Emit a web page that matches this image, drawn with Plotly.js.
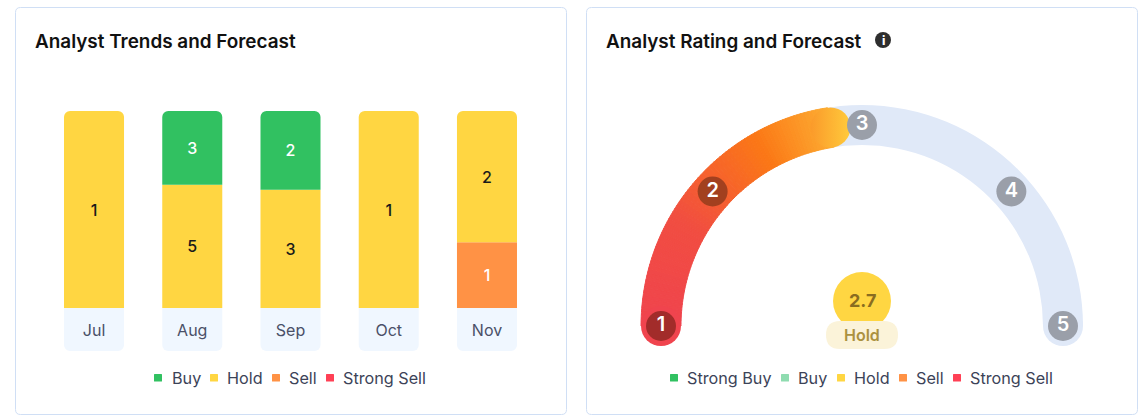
<!DOCTYPE html>
<html>
<head>
<meta charset="utf-8">
<script src="https://cdn.plot.ly/plotly-3.0.1.min.js"></script>
<style>
  html, body { margin: 0; padding: 0; background: #fff; }
  #chart { width: 1144px; height: 417px; }
</style>
</head>
<body>
<div id="chart"></div>
<script>
// Values
const months = ['Jul', 'Aug', 'Sep', 'Oct', 'Nov'];
const buyCounts = [0, 3, 2, 0, 0];
const holdCounts = [1, 5, 3, 1, 2];
const sellCounts = [0, 0, 0, 0, 1];
const trendLegend = ['Buy', 'Hold', 'Sell', 'Strong Sell'];

const ratingValue = 2.7;
const ratingLabel = 'Hold';
const gaugeTicks = [1, 2, 3, 4, 5];
const gaugeTickAngles = [180, 138, 90, 42, 0];
const ratingEndAngle = 99;
const ratingLegend = ['Strong Buy', 'Buy', 'Hold', 'Sell', 'Strong Sell'];

const W = 1144, H = 417;
const FONT = 'Inter, "Noto Sans", sans-serif';
const colors = {
    'Strong Buy': '#31c161', 'Buy': '#31c161', 'Hold': '#ffd642',
    'Sell': '#ff9245', 'Strong Sell': '#ff4055'
};
const px = x => x / W;
const py = y => 1 - y / H;

function roundedPath(x0, y0, x1, y1, r) {
    const rx = r / W, ry = r / H;
    const [l, t, a, b] = [px(x0), py(y0), px(x1), py(y1)];
    return `M${l + rx},${t} L${a - rx},${t} Q${a},${t} ${a},${t - ry} L${a},${b + ry} Q${a},${b} ${a - rx},${b} ` +
        `L${l + rx},${b} Q${l},${b} ${l},${b + ry} L${l},${t - ry} Q${l},${t} ${l + rx},${t} Z`;
}

function paperShape(path, fill, line, layer) {
    return {
        type: 'path', xref: 'paper', yref: 'paper', path: path, fillcolor: fill,
        line: { color: line || fill, width: line ? 1 : 0 }, layer: layer || 'above'
    };
}

function label(x, y, text, size, color, weight, anchor) {
    return {
        xref: 'paper', yref: 'paper', x: px(x), y: py(y), text: text, showarrow: false,
        xanchor: anchor || 'left', yanchor: 'middle', borderpad: 0,
        font: { family: FONT, size: size, color: color, weight: weight || 400 }
    };
}

// stacked bars share the full height, the raw count is what gets printed
const totals = months.map((m, i) => buyCounts[i] + holdCounts[i] + sellCounts[i]);
function stackTrace(name, counts, textColor) {
    return {
        type: 'bar', name: name, x: months,
        y: counts.map((c, i) => c ? c / totals[i] : null),
        text: counts.map(c => c ? String(c) : ''),
        textposition: 'inside', insidetextanchor: 'middle', textangle: 0,
        insidetextfont: { family: FONT, size: 16, color: textColor, weight: 500 },
        marker: { color: colors[name] }, showlegend: false, hoverinfo: 'skip'
    };
}

const bandDepth = 43 / 197;
const traces = [
    stackTrace('Sell', sellCounts, '#ffffff'),
    stackTrace('Hold', holdCounts, '#1a1a1a'),
    stackTrace('Buy', buyCounts, '#ffffff'),
    {
        type: 'bar', x: months, y: months.map(() => -bandDepth),
        marker: { color: '#f0f7ff' }, showlegend: false, hoverinfo: 'skip'
    }
];

// gauge: track, then the gradient fill up to the rating
const gradientAngles = [180, 150, 119, ratingEndAngle];
const gradientColors = [[240, 68, 78], [241, 77, 65], [251, 120, 22], [253, 172, 50]];
function gradientAt(angle) {
    let i = 0;
    while (i < gradientAngles.length - 2 && angle < gradientAngles[i + 1]) i++;
    const t = (gradientAngles[i] - angle) / (gradientAngles[i] - gradientAngles[i + 1]);
    const c = gradientColors[i].map((v, k) => Math.round(v + (gradientColors[i + 1][k] - v) * t));
    return `rgb(${c.join(',')})`;
}
const fillAngles = [];
for (let a = 179.5; a > ratingEndAngle; a -= 1) fillAngles.push(a);

const TRACK = '#e0e9f8';
const R = 201;
traces.push({
    type: 'barpolar', subplot: 'polar', theta: [90], r: [40], base: [R - 20], width: [180],
    marker: { color: TRACK, line: { width: 0 } }, showlegend: false, hoverinfo: 'skip'
});
traces.push({
    type: 'barpolar', subplot: 'polar', theta: fillAngles, r: fillAngles.map(() => 40),
    base: fillAngles.map(() => R - 20), width: fillAngles.map(() => 1),
    marker: { color: fillAngles.map(gradientAt), line: { color: fillAngles.map(gradientAt), width: 1 } },
    showlegend: false, hoverinfo: 'skip'
});
traces.push({
    type: 'scatterpolar', subplot: 'polar', mode: 'markers', theta: [0, 180], r: [R, R],
    marker: { size: 40, color: [TRACK, gradientAt(180)], line: { width: 0 } },
    showlegend: false, hoverinfo: 'skip'
});
traces.push({
    type: 'scatterpolar', subplot: 'polar', mode: 'markers', theta: [ratingEndAngle], r: [R],
    marker: { size: 40, color: '#fb9a2a', gradient: { type: 'horizontal', color: '#ffcb3c' }, line: { width: 0 } },
    showlegend: false, hoverinfo: 'skip'
});
traces.push({
    type: 'scatterpolar', subplot: 'polar', mode: 'markers+text',
    theta: gaugeTickAngles, r: gaugeTicks.map(() => R),
    text: gaugeTicks.map(String), textposition: 'middle center',
    textfont: { family: FONT, size: 20, color: '#ffffff', weight: 600 },
    marker: { size: 30, color: ['#a22c2a', '#a2401f', '#9a9fa9', '#9a9fa9', '#9a9fa9'], line: { width: 0 } },
    showlegend: false, hoverinfo: 'skip'
});

const shapes = [
    paperShape(roundedPath(15.5, 7.5, 566.5, 414.5, 5), '#ffffff', '#d0dff5', 'below'),
    paperShape(roundedPath(586.5, 7.5, 1137.5, 414.5, 5), '#ffffff', '#d0dff5', 'below'),
    // info dot
    { type: 'circle', xref: 'paper', yref: 'paper', x0: px(875), x1: px(891), y0: py(48), y1: py(32), fillcolor: '#2e2e2e', line: { width: 0 } },
    // rating bubble and pill
    { type: 'circle', xref: 'paper', yref: 'paper', x0: px(833), x1: px(891), y0: py(330), y1: py(272), fillcolor: '#ffd642', line: { width: 0 } },
    paperShape(roundedPath(826, 321, 898, 349, 14), '#fbf3d9')
];

const annotations = [
    label(34, 41, 'Analyst Trends and Forecast', 18.9, '#111111', 600),
    label(605, 41, 'Analyst Rating and Forecast', 18.9, '#111111', 600),
    label(883, 40.5, 'i', 12, '#ffffff', 800, 'center'),
    label(862, 300.5, String(ratingValue), 18, '#8a6d20', 700, 'center'),
    label(862, 335, ratingLabel, 16, '#ab9140', 600, 'center')
];

function addLegend(names, markerX, textX) {
    names.forEach((name, i) => {
        shapes.push(paperShape(roundedPath(markerX[i], 374, markerX[i] + 8, 381.5, 0.5), colors[name]));
        annotations.push(label(textX[i], 378, name, 16.2, '#3c4358', 400));
    });
}
addLegend(trendLegend, [154, 210, 272, 326], [171, 226, 288, 342]);
colors['Buy'] = '#8fdcb0';
addLegend(ratingLegend, [670, 781, 837, 899, 953], [686, 797, 853, 915, 969]);

const layout = {
    width: W, height: H, margin: { t: 0, b: 0, l: 0, r: 0 },
    paper_bgcolor: '#ffffff', plot_bgcolor: 'rgba(0,0,0,0)',
    font: { family: FONT, color: '#3c4358', size: 16 },
    barmode: 'relative', bargap: 0.389, barcornerradius: 6,
    xaxis: {
        domain: [px(44.9), px(536.1)], type: 'category', range: [-0.5, 4.5], fixedrange: true,
        showgrid: false, zeroline: false, showline: false, ticks: '', ticklabelposition: 'inside',
        ticklabelstandoff: 9, tickfont: { family: FONT, size: 16, color: '#4a5068' }
    },
    yaxis: {
        domain: [py(351), py(111)], range: [-bandDepth, 1], fixedrange: true,
        showgrid: false, zeroline: false, showline: false, showticklabels: false, ticks: ''
    },
    polar: {
        // one radial unit is one pixel: the domain spans 222 from the centre
        domain: { x: [px(640), px(1084)], y: [py(326), py(104)] },
        sector: [0, 180], bgcolor: 'rgba(0,0,0,0)',
        radialaxis: { visible: false, range: [0, 222] },
        angularaxis: { visible: false }
    },
    shapes: shapes,
    annotations: annotations
};

Plotly.newPlot('chart', traces, layout, { displayModeBar: false, responsive: false });
</script>
</body>
</html>
